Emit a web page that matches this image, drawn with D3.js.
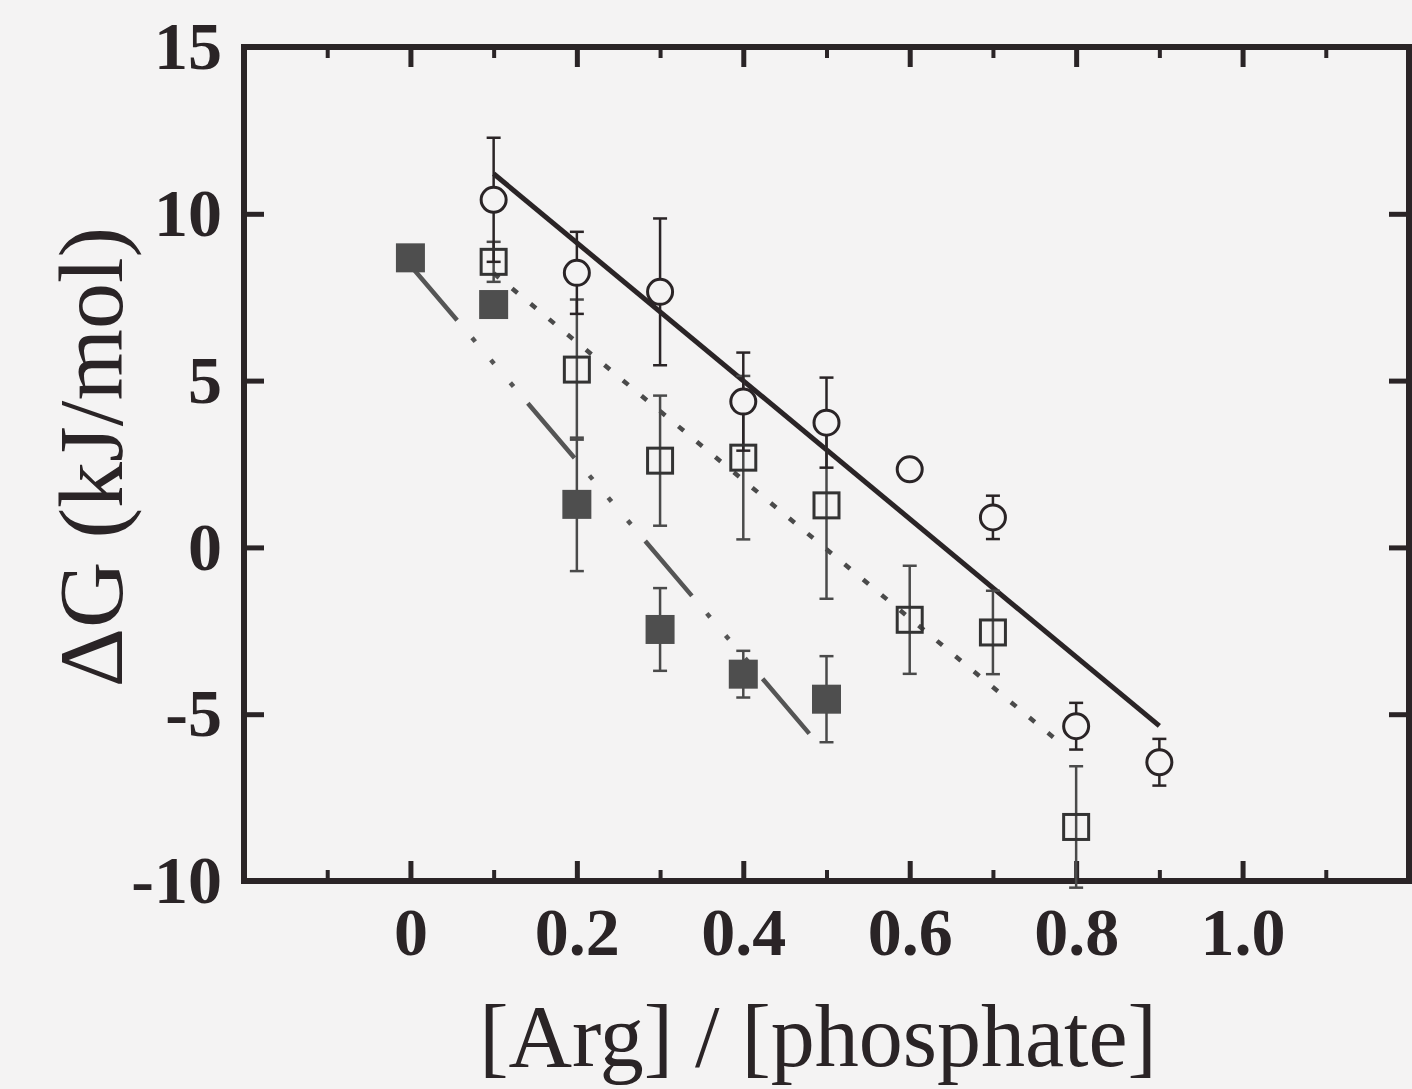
<!DOCTYPE html>
<html>
<head>
<meta charset="utf-8">
<script src="https://cdn.jsdelivr.net/npm/d3@7"></script>
<style>
  body { margin: 0; background: #f4f3f3; }
  svg { display: block; }
</style>
</head>
<body>
<div id="chart"></div>
<script>
// open circles (solid fit)
var circX = [0.1, 0.2, 0.3, 0.4, 0.5, 0.6, 0.7, 0.8, 0.9]
var circY = [10.42, 8.23, 7.66, 4.37, 3.74, 2.34, 0.90, -5.36, -6.44]
var circErr = [1.86, 1.23, 2.2, 1.47, 1.35, 0.3, 0.65, 0.7, 0.7]

// open squares (dotted fit)
var sqX = [0.1, 0.2, 0.3, 0.4, 0.5, 0.6, 0.7, 0.8]
var sqY = [8.56, 5.33, 2.60, 2.69, 1.26, -2.17, -2.55, -8.38]
var sqErr = [0.6, 2.1, 1.95, 2.45, 2.8, 1.62, 1.25, 1.82]

// filled squares (dash-dot fit)
var fillX = [0, 0.1, 0.2, 0.3, 0.4, 0.5]
var fillY = [8.68, 7.28, 1.29, -2.46, -3.80, -4.55]
var fillErr = [0, 0.3, 2.0, 1.24, 0.7, 1.29]

// fit line end points
var fitCircX = [0.1, 0.9], fitCircY = [11.2, -5.35]
var fitSqX = [0.1, 0.785], fitSqY = [8.22, -5.95]
var fitFillX = [0, 0.483], fitFillY = [8.45, -5.69]

// ticks
var xMajor = [0, 0.2, 0.4, 0.6, 0.8, 1.0]
var xTickLabels = ["0", "0.2", "0.4", "0.6", "0.8", "1.0"]
var xMinor = [-0.1, 0.1, 0.3, 0.5, 0.7, 0.9, 1.1]
var yMajor = [-10, -5, 0, 5, 10, 15]
var yTickLabels = ["-10", "-5", "0", "5", "10", "15"]

var ink = "#2a2426"
var gray = "#4e4e4e"
var bg = "#f4f3f3"

var width = 1412, height = 1089
var x = d3.scaleLinear().domain([-0.2, 1.2]).range([244, 1409])
var y = d3.scaleLinear().domain([-10, 15]).range([881, 47])

var svg = d3.select("#chart").append("svg")
    .attr("width", width)
    .attr("height", height)

svg.append("rect").attr("width", width).attr("height", height).attr("fill", bg)

// axes, ticks inward
function styleAxis(g, w) {
    g.select(".domain").remove()
    g.selectAll(".tick line").attr("stroke", ink).attr("stroke-width", w)
    g.selectAll(".tick text")
        .attr("fill", ink)
        .style("font-family", "'Liberation Serif', 'Times New Roman', serif")
        .style("font-weight", "bold")
        .style("font-size", "68px")
}

svg.append("g").attr("transform", "translate(0," + y(-10) + ")")
    .call(d3.axisBottom(x).tickValues(xMajor).tickFormat(function(d, i){ return xTickLabels[i] })
        .tickSizeInner(-20).tickSizeOuter(0).tickPadding(26))
    .call(styleAxis, 5)
svg.append("g").attr("transform", "translate(0," + y(-10) + ")")
    .call(d3.axisBottom(x).tickValues(xMinor).tickFormat("").tickSizeInner(-11).tickSizeOuter(0))
    .call(styleAxis, 4)
svg.append("g").attr("transform", "translate(0," + y(15) + ")")
    .call(d3.axisTop(x).tickValues(xMajor).tickFormat("").tickSizeInner(-20).tickSizeOuter(0))
    .call(styleAxis, 5)
svg.append("g").attr("transform", "translate(0," + y(15) + ")")
    .call(d3.axisTop(x).tickValues(xMinor).tickFormat("").tickSizeInner(-11).tickSizeOuter(0))
    .call(styleAxis, 4)
svg.append("g").attr("transform", "translate(" + x(-0.2) + ",0)")
    .call(d3.axisLeft(y).tickValues(yMajor).tickFormat(function(d, i){ return yTickLabels[i] })
        .tickSizeInner(-20).tickSizeOuter(0).tickPadding(22))
    .call(styleAxis, 5)
svg.append("g").attr("transform", "translate(" + x(1.2) + ",0)")
    .call(d3.axisRight(y).tickValues(yMajor).tickFormat("").tickSizeInner(-20).tickSizeOuter(0))
    .call(styleAxis, 5)

// frame
svg.append("rect")
    .attr("x", x(-0.2)).attr("y", y(15))
    .attr("width", x(1.2) - x(-0.2)).attr("height", y(-10) - y(15))
    .attr("fill", "none").attr("stroke", ink).attr("stroke-width", 6)

// fit lines
var line = d3.line().x(function(d){ return x(d[0]) }).y(function(d){ return y(d[1]) })
svg.append("path").datum(d3.zip(fitFillX, fitFillY))
    .attr("d", line).attr("fill", "none").attr("stroke", "#555")
    .attr("stroke-width", 4.5).attr("stroke-dasharray", "72,23,5,24,5,25,5,22")
svg.append("path").datum(d3.zip(fitSqX, fitSqY))
    .attr("d", line).attr("fill", "none").attr("stroke", "#4a4a4a")
    .attr("stroke-width", 4.5).attr("stroke-dasharray", "7,17")
svg.append("path").datum(d3.zip(fitCircX, fitCircY))
    .attr("d", line).attr("fill", "none").attr("stroke", ink)
    .attr("stroke-width", 5)

// error bars
function errorBars(xs, ys, es, color, w) {
    var data = d3.zip(xs, ys, es).filter(function(d){ return d[2] > 0 })
    var g = svg.append("g").attr("stroke", color).attr("stroke-width", w)
    g.selectAll(".bar").data(data).enter().append("line")
        .attr("x1", function(d){ return x(d[0]) }).attr("x2", function(d){ return x(d[0]) })
        .attr("y1", function(d){ return y(d[1] + d[2]) }).attr("y2", function(d){ return y(d[1] - d[2]) })
    ;[1, -1].forEach(function(s){
        g.selectAll(".cap" + s).data(data).enter().append("line")
            .attr("x1", function(d){ return x(d[0]) - 7 }).attr("x2", function(d){ return x(d[0]) + 7 })
            .attr("y1", function(d){ return y(d[1] + s * d[2]) }).attr("y2", function(d){ return y(d[1] + s * d[2]) })
    })
}
errorBars(fillX, fillY, fillErr, "#4a4a4a", 2.5)
errorBars(sqX, sqY, sqErr, "#4a4a4a", 2.5)
errorBars(circX, circY, circErr, ink, 2.5)

// markers
svg.append("g").selectAll("rect").data(d3.zip(fillX, fillY)).enter().append("rect")
    .attr("x", function(d){ return x(d[0]) - 14.5 }).attr("y", function(d){ return y(d[1]) - 14.5 })
    .attr("width", 29).attr("height", 29).attr("fill", gray)
svg.append("g").selectAll("rect").data(d3.zip(sqX, sqY)).enter().append("rect")
    .attr("x", function(d){ return x(d[0]) - 12.5 }).attr("y", function(d){ return y(d[1]) - 12.5 })
    .attr("width", 25).attr("height", 25).attr("fill", "none")
    .attr("stroke", "#333").attr("stroke-width", 3)
svg.append("g").selectAll("circle").data(d3.zip(circX, circY)).enter().append("circle")
    .attr("cx", function(d){ return x(d[0]) }).attr("cy", function(d){ return y(d[1]) })
    .attr("r", 12.5).attr("fill", bg).attr("stroke", ink).attr("stroke-width", 3)

// axis titles
svg.append("text")
    .attr("x", 818).attr("y", 1066)
    .attr("text-anchor", "middle").attr("fill", ink)
    .style("font-family", "'Liberation Serif', 'Times New Roman', serif")
    .style("font-size", "88px")
    .text("[Arg] / [phosphate]")
svg.append("text")
    .attr("transform", "translate(122,457) rotate(-90)")
    .attr("text-anchor", "middle").attr("fill", ink)
    .style("font-family", "'Liberation Serif', 'Times New Roman', serif")
    .style("font-size", "92px")
    .text("ΔG (kJ/mol)")
</script>
</body>
</html>
